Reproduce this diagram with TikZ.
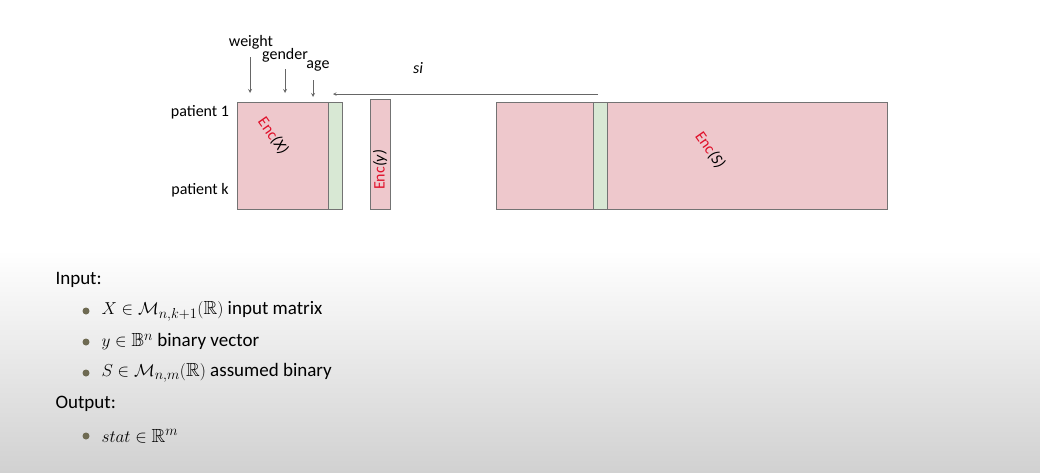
\documentclass[tikz,border=0pt]{standalone}
\usepackage{amsmath,amssymb}
\usepackage{fontspec}
\setsansfont{Carlito}
\renewcommand{\familydefault}{\sfdefault}
\definecolor{encpink}{HTML}{EEC8CC}
\definecolor{encgreen}{HTML}{D8E8D4}
\definecolor{encred}{HTML}{E0102A}
\definecolor{bulletgray}{HTML}{6E6A52}
\tikzset{
  block/.style={draw=black!55,fill=encpink},
  strip/.style={draw=black!55,fill=encgreen},
  lbl/.style={font=\fontsize{16}{18}\selectfont,inner sep=1pt},
  item/.style={anchor=west,font=\fontsize{19}{21}\selectfont},
  feat/.style={->,black!60,line width=0.8pt},
}
\newcommand{\enc}[1]{{\color{encred}Enc}\textit{(#1)}}
\begin{document}
\begin{tikzpicture}[x=1pt,y=-1pt,>=stealth]
\useasboundingbox (0,0) rectangle (1040,472);
\fill[white] (0,0) rectangle (1040,250);
\shade[top color=white,bottom color=black!18] (0,250) rectangle (1040,472);
% matrices
\draw[block] (237,102) rectangle (328,209);
\draw[strip] (328,102) rectangle (342,209);
\draw[block] (370,99) rectangle (390,209);
\draw[block] (496,102) rectangle (887,209);
\draw[strip] (593,102) rectangle (607,209);
\node[lbl,rotate=-55] (encx) at (273,136) {\enc{X}};
\node[lbl,rotate=90] (ency) at (380,170) {\enc{y}};
\node[lbl,rotate=-55] (encs) at (710,150) {\enc{S}};
% labels
\node[lbl] (p1) at (200,112) {patient 1};
\node[lbl] (pk) at (200,190) {patient k};
\node[lbl] (weight) at (251,42) {weight};
\node[lbl] (gender) at (285,55) {gender};
\node[lbl] (age) at (318,66) {age};
\node[lbl,font=\fontsize{16}{18}\selectfont\itshape] (si) at (418,68) {si};
\coordinate (wt) at (250,93);
\coordinate (gt) at (285,93);
\coordinate (at) at (313,97);
\coordinate (sa) at (598,94);
\coordinate (sb) at (333,94);
\draw[feat] (250,57) -- (wt);
\draw[feat] (285,69) -- (gt);
\draw[feat] (313,80) -- (at);
\draw[feat,line width=0.6pt] (sa) -- (sb);
% text
\node[item] (inp) at (52,280) {Input:};
\node[item] (i1) at (98,311) {$X \in \mathcal{M}_{n,k+1}(\mathbb{R})$ input matrix};
\node[item] (i2) at (98,342) {$y \in \mathbb{B}^n$ binary vector};
\node[item] (i3) at (98,373) {$S \in \mathcal{M}_{n,m}(\mathbb{R})$ assumed binary};
\node[item] (out) at (52,404) {Output:};
\node[item] (o1) at (98,436) {$stat \in \mathbb{R}^m$};
\foreach \n in {i1,i2,i3,o1}
  \fill[bulletgray] (\n.west) ++(-12,0) circle (3.5);
\end{tikzpicture}
\end{document}
